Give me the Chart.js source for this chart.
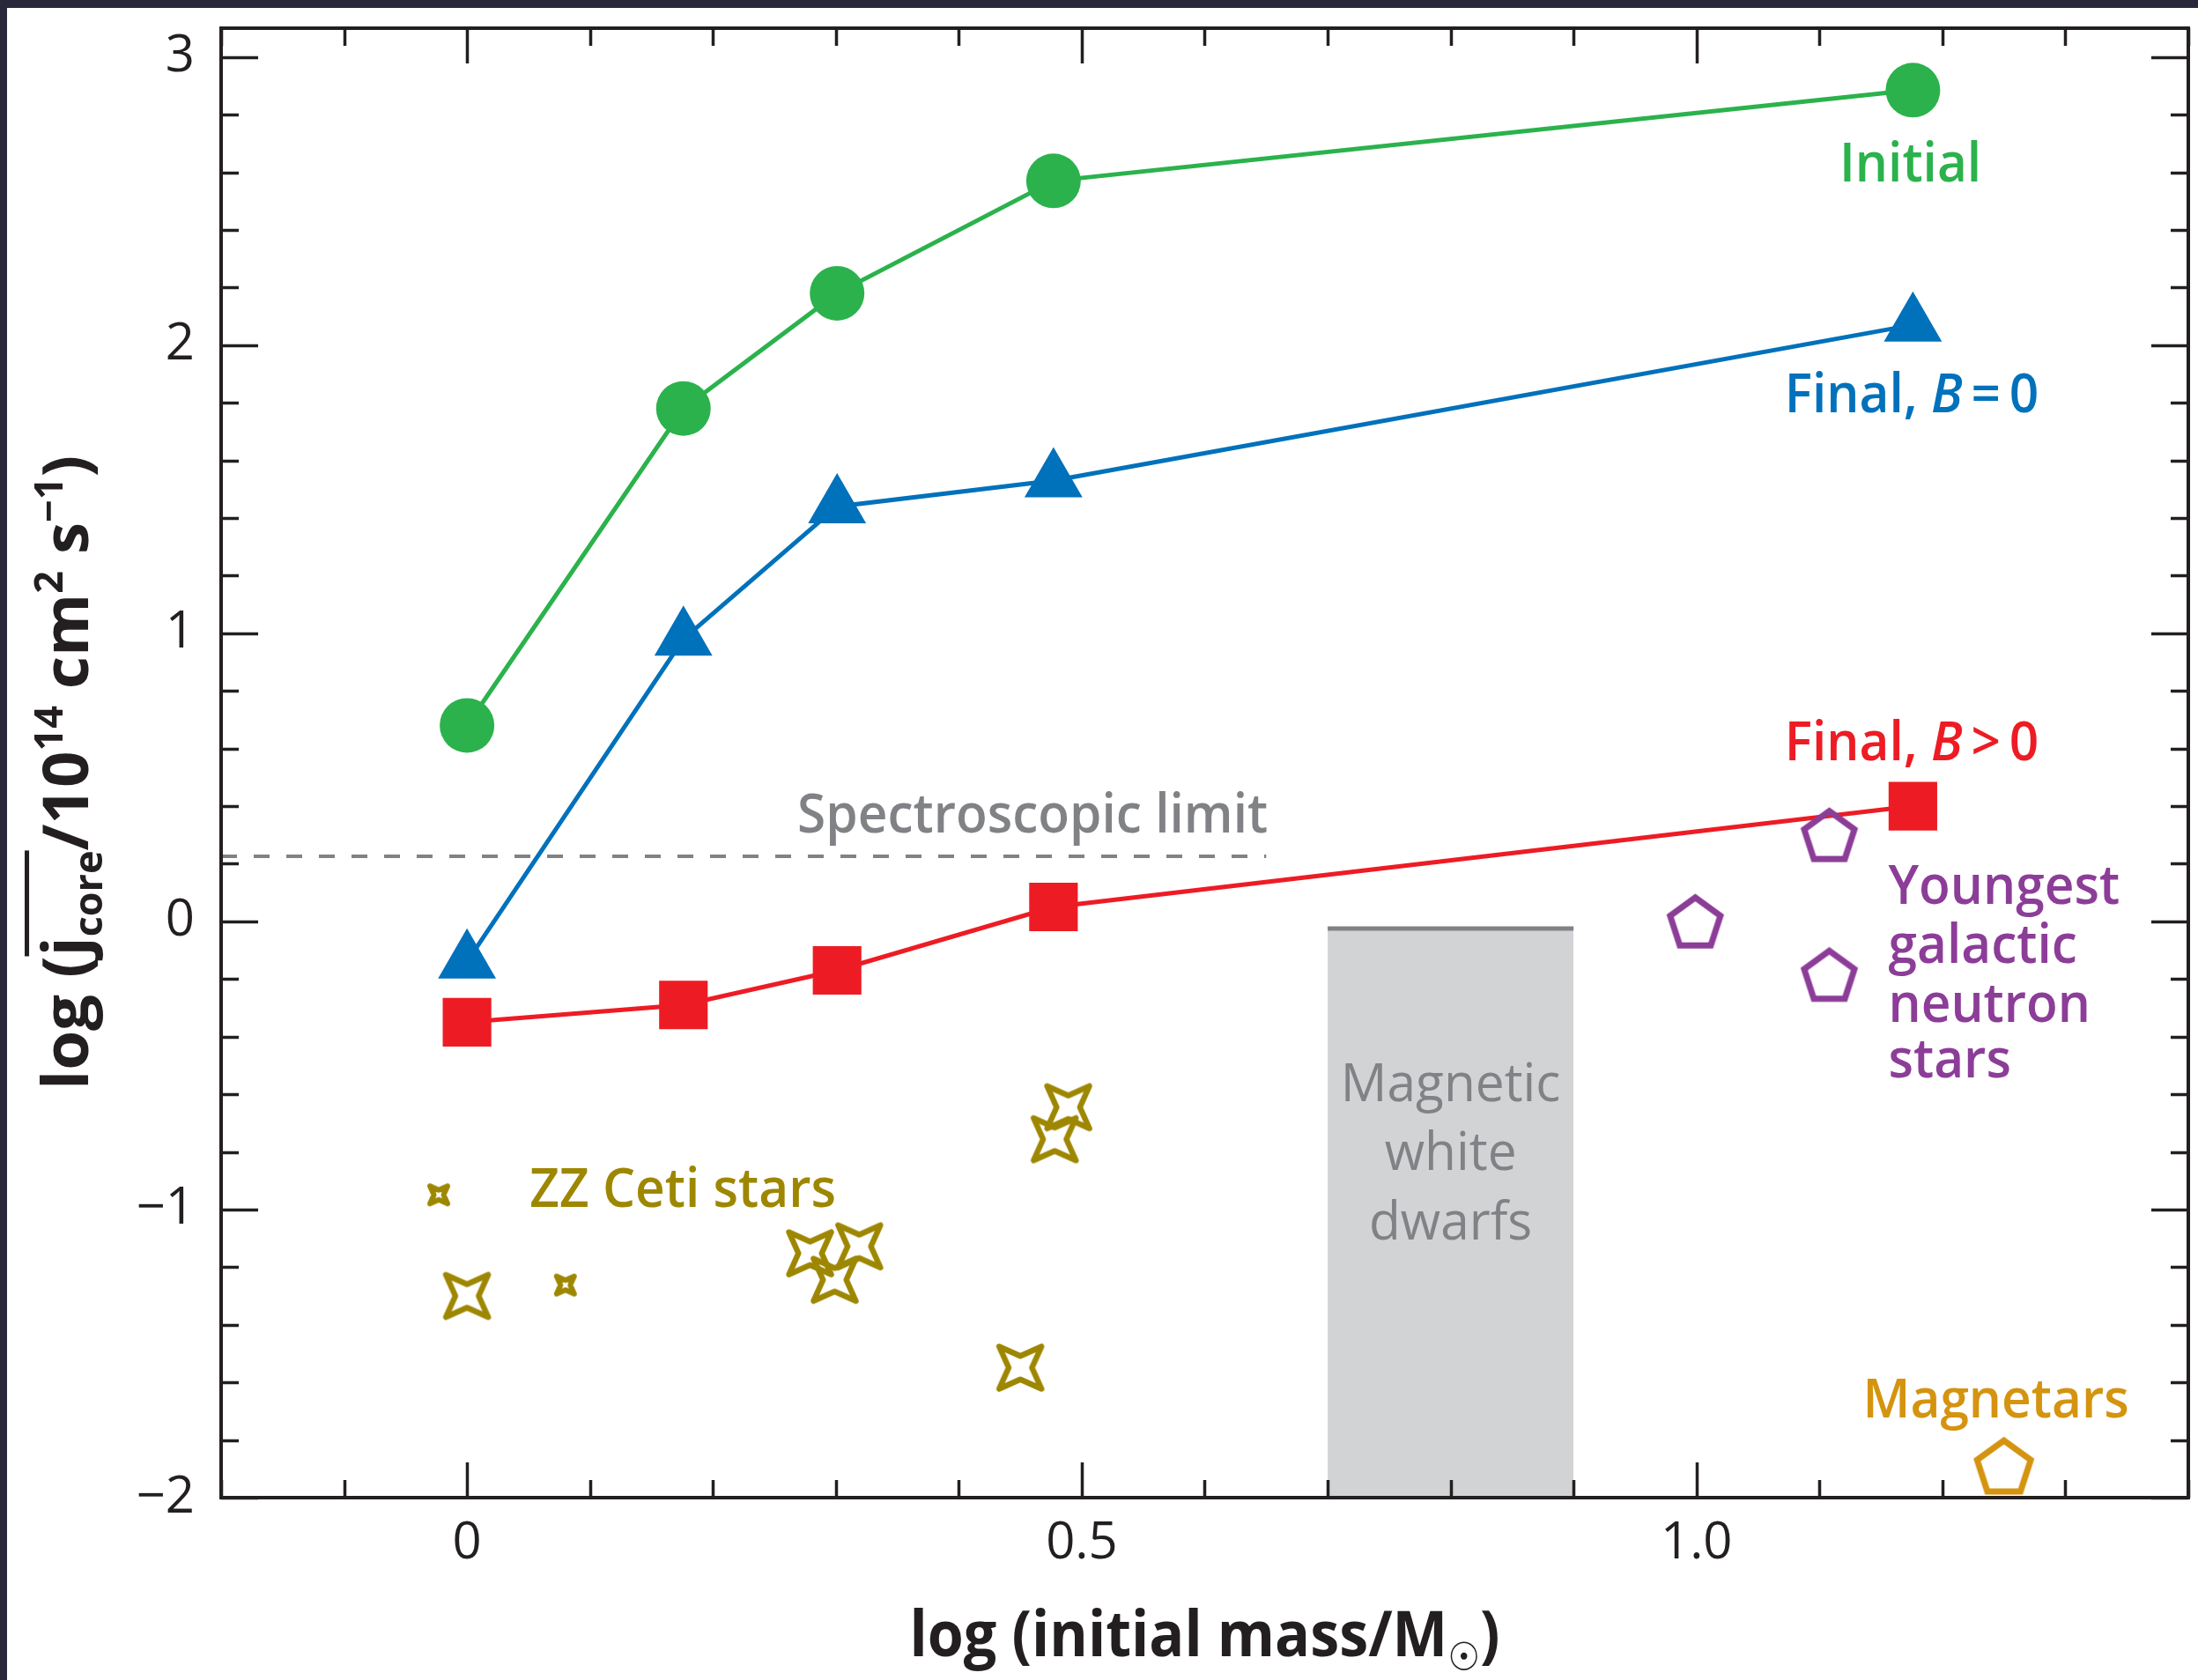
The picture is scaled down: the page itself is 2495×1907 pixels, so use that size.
<!DOCTYPE html>
<html>
<head>
<meta charset="utf-8">
<script src="https://cdn.jsdelivr.net/npm/chart.js@4.4.1/dist/chart.umd.min.js"></script>
<style>
html,body{margin:0;padding:0;background:#fff;overflow:hidden}
#wrap{position:relative;width:2495px;height:1907px;background:#fff}
canvas{display:block}
</style>
</head>
<body>
<div id="wrap"><canvas id="c" width="2495" height="1907"></canvas></div>
<script>
// ---------------- DATA ----------------
const massX      = [0, 0.176, 0.301, 0.477, 1.176];      // log(initial mass / Msun)
const initialJ   = [0.68, 1.78, 2.18, 2.57, 2.885];
const finalB0J   = [-0.14, 0.98, 1.44, 1.53, 2.07];
const finalBJ    = [-0.35, -0.29, -0.17, 0.05, 0.40];

const zzLargeX   = [0, 0.279, 0.319, 0.299, 0.489, 0.478, 0.450];
const zzLargeJ   = [-1.30, -1.152, -1.128, -1.244, -0.645, -0.756, -1.549];
const zzSmallX   = [-0.023, 0.080];
const zzSmallJ   = [-0.949, -1.262];

const nsX        = [1.108, 0.999, 1.108];
const nsJ        = [0.30, 0.0, -0.185];
const magnetarX  = [1.25];
const magnetarJ  = [-1.89];

const specLimitX = [-0.2, 0.65];
const specLimitJ = [0.226, 0.226];
const mwdX       = [0.7, 0.9];
const mwdTopJ    = [-0.025, -0.025];

const xMajorLabels = {0: '0', 5: '0.5', 10: '1.0'};   // keyed by tenths
const yMajorLabels = {3: '3', 2: '2', 1: '1', 0: '0', '-1': '\u22121', '-2': '\u22122'};

// ---------------- STYLE ----------------
const GREEN = '#2bb24c', BLUE = '#0071bb', RED = '#ed1c24', PURPLE = '#8c3d98',
      OLIVE = '#9e8700', ORANGE = '#d4940f', GRAYTXT = '#808285', GRAYFILL = '#d1d3d4',
      AXIS = '#231f20';
const FONT = '"Open Sans", "DejaVu Sans", sans-serif';

const pts = (xs, ys) => xs.map((v, i) => ({x: v, y: ys[i]}));

function makeStar(size, lw, color, k) {
  const c = document.createElement('canvas');
  const s = Math.ceil(size + lw * 2 + 2);
  c.width = c.height = s;
  const g = c.getContext('2d');
  const m = s / 2, a = size / 2, b = a * k;
  g.strokeStyle = color; g.lineWidth = lw; g.lineJoin = 'round';
  g.beginPath();
  g.moveTo(m - a, m - a); g.lineTo(m, m - b); g.lineTo(m + a, m - a);
  g.lineTo(m + b, m); g.lineTo(m + a, m + a); g.lineTo(m, m + b);
  g.lineTo(m - a, m + a); g.lineTo(m - b, m); g.closePath();
  g.stroke();
  return c;
}
function makePentagon(R, lw, color) {
  const c = document.createElement('canvas');
  const s = Math.ceil(2 * R + lw * 2 + 4);
  c.width = c.height = s;
  const g = c.getContext('2d');
  const cx = s / 2, cy = s / 2 + 0.0955 * R;
  g.strokeStyle = color; g.lineWidth = lw; g.lineJoin = 'miter';
  g.beginPath();
  for (let i = 0; i < 5; i++) {
    const ang = -Math.PI / 2 + i * 2 * Math.PI / 5;
    const px = cx + R * Math.cos(ang), py = cy + R * Math.sin(ang);
    if (i === 0) g.moveTo(px, py); else g.lineTo(px, py);
  }
  g.closePath(); g.stroke();
  return c;
}
const starLarge = makeStar(48, 6.5, OLIVE, 0.55);
const starSmall = makeStar(20, 6, OLIVE, 0.55);
const pentNS = makePentagon(30, 7, PURPLE);
const pentMag = makePentagon(32, 7, ORANGE);

// ---------------- TEXT ----------------
function pieceFont(p, size, weight) {
  const s = (p.sub || p.sup) ? size * 0.62 : size;
  return (p.italic ? 'italic ' : '') + weight + ' ' + s + 'px ' + FONT;
}
function drawRich(ctx, pieces, px, py, opt) {
  const size = opt.size, weight = opt.weight || 600;
  ctx.save();
  ctx.fillStyle = opt.color;
  ctx.textBaseline = 'alphabetic';
  ctx.textAlign = 'left';
  const ws = pieces.map(p => { ctx.font = pieceFont(p, size, weight); return ctx.measureText(p.t).width; });
  const total = ws.reduce((a, b) => a + b, 0);
  let hs = opt.hs || 1;
  if (opt.targetWidth) hs = opt.targetWidth / total;
  ctx.translate(px, py);
  if (opt.rotate) ctx.rotate(opt.rotate);
  ctx.scale(hs, 1);
  let cx = opt.align === 'center' ? -total / 2 : (opt.align === 'right' ? -total : 0);
  let overStart = null;
  pieces.forEach((p, i) => {
    ctx.font = pieceFont(p, size, weight);
    const dy = p.sub ? size * 0.22 : (p.sup ? -size * 0.40 : 0);
    ctx.fillText(p.t, cx, dy);
    if (p.overStart) overStart = cx;
    if (p.overEnd && overStart !== null) {
      ctx.fillRect(overStart, -size * 1.0, cx + ws[i] - overStart, size * 0.07);
    }
    cx += ws[i];
  });
  ctx.restore();
}

const textLabels = [
  {pieces: [{t: 'Initial'}], x: 1.174, y: 2.567, align: 'center', color: GREEN},
  {pieces: [{t: 'Final, '}, {t: 'B', italic: true}, {t: '\u2009=\u20090'}], x: 1.175, y: 1.768, align: 'center', color: BLUE},
  {pieces: [{t: 'Final, '}, {t: 'B', italic: true}, {t: '\u2009>\u20090'}], x: 1.175, y: 0.558, align: 'center', color: RED},
  {pieces: [{t: 'Spectroscopic limit'}], x: 0.460, y: 0.309, align: 'center', color: GRAYTXT},
  {pieces: [{t: 'ZZ Ceti stars'}], x: 0.051, y: -0.99, align: 'left', color: OLIVE},
  {pieces: [{t: 'Magnetic'}], x: 0.8, y: -0.624, align: 'center', color: GRAYTXT, weight: 400},
  {pieces: [{t: 'white'}], x: 0.8, y: -0.864, align: 'center', color: GRAYTXT, weight: 400},
  {pieces: [{t: 'dwarfs'}], x: 0.8, y: -1.105, align: 'center', color: GRAYTXT, weight: 400},
  {pieces: [{t: 'Youngest'}], x: 1.156, y: 0.061, align: 'left', color: PURPLE},
  {pieces: [{t: 'galactic'}], x: 1.156, y: -0.145, align: 'left', color: PURPLE},
  {pieces: [{t: 'neutron'}], x: 1.156, y: -0.349, align: 'left', color: PURPLE},
  {pieces: [{t: 'stars'}], x: 1.156, y: -0.543, align: 'left', color: PURPLE},
  {pieces: [{t: 'Magnetars'}], x: 1.2435, y: -1.723, align: 'center', color: ORANGE}
];

const labelPlugin = {
  id: 'textLabels',
  afterDatasetsDraw(chart) {
    const {ctx} = chart, xs = chart.scales.x, ys = chart.scales.y;
    textLabels.forEach(L => {
      drawRich(ctx, L.pieces, xs.getPixelForValue(L.x), ys.getPixelForValue(L.y),
        {size: 61, weight: L.weight || 600, color: L.color, align: L.align, hs: 0.96});
    });
  }
};

const framePlugin = {
  id: 'frame',
  afterDraw(chart) {
    const {ctx, chartArea: a} = chart, xs = chart.scales.x, ys = chart.scales.y;
    ctx.save();
    ctx.strokeStyle = AXIS;
    ctx.lineWidth = 3.5;
    ctx.beginPath();
    xs.ticks.forEach(t => {
      const tenth = Math.round(t.value * 10);
      const len = tenth % 5 === 0 ? 40 : 20;
      const px = Math.round(xs.getPixelForValue(t.value)) + 0.5;
      ctx.moveTo(px, a.bottom); ctx.lineTo(px, a.bottom - len);
      ctx.moveTo(px, a.top); ctx.lineTo(px, a.top + len);
    });
    ys.ticks.forEach(t => {
      const isMajor = Math.abs(t.value - Math.round(t.value)) < 1e-6;
      const len = isMajor ? 42 : 20;
      const py = Math.round(ys.getPixelForValue(t.value)) + 0.5;
      ctx.moveTo(a.left, py); ctx.lineTo(a.left + len, py);
      ctx.moveTo(a.right, py); ctx.lineTo(a.right - len, py);
    });
    ctx.stroke();
    ctx.lineWidth = 4;
    ctx.strokeRect(a.left, a.top, a.right - a.left, a.bottom - a.top);

    // axis titles
    drawRich(ctx, [{t: 'log (initial mass/M'}, {t: '\u2609', sub: true}, {t: ')'}],
      (a.left + a.right) / 2, 1880, {size: 72, weight: 700, color: AXIS, align: 'center', targetWidth: 670});
    drawRich(ctx, [{t: 'log ('}, {t: 'j', overStart: true}, {t: 'core', sub: true, overEnd: true},
                   {t: '/10'}, {t: '14', sup: true}, {t: ' cm'}, {t: '2', sup: true},
                   {t: ' s'}, {t: '\u22121', sup: true}, {t: ')'}],
      100, 877, {size: 72, weight: 700, color: AXIS, align: 'center', rotate: -Math.PI / 2, targetWidth: 720});

    // photo border bands
    ctx.fillStyle = '#29273a';
    ctx.fillRect(0, 0, chart.width, 9);
    ctx.fillRect(0, 0, 8, chart.height);
    ctx.restore();
  }
};

const ctx = document.getElementById('c').getContext('2d');
new Chart(ctx, {
  type: 'line',
  data: {
    datasets: [
      {label: 'Magnetars', data: pts(magnetarX, magnetarJ), showLine: false,
       pointStyle: pentMag, pointRadius: 30, order: 1},
      {label: 'Youngest galactic neutron stars', data: pts(nsX, nsJ), showLine: false,
       pointStyle: pentNS, pointRadius: 30, order: 1},
      {label: 'Final, B > 0', data: pts(massX, finalBJ), borderColor: RED, backgroundColor: RED,
       borderWidth: 5, pointStyle: 'rect', pointRadius: 39, pointBorderWidth: 0, order: 2},
      {label: 'Final, B = 0', data: pts(massX, finalB0J), borderColor: BLUE, backgroundColor: BLUE,
       borderWidth: 5, pointStyle: 'triangle', pointRadius: 38, pointBorderWidth: 0, order: 2},
      {label: 'Initial', data: pts(massX, initialJ), borderColor: GREEN, backgroundColor: GREEN,
       borderWidth: 5, pointStyle: 'circle', pointRadius: 31, pointBorderWidth: 0, order: 2},
      {label: 'ZZ Ceti stars (large)', data: pts(zzLargeX, zzLargeJ), showLine: false,
       pointStyle: starLarge, pointRadius: 25, order: 3},
      {label: 'ZZ Ceti stars (small)', data: pts(zzSmallX, zzSmallJ), showLine: false,
       pointStyle: starSmall, pointRadius: 12, order: 3},
      {label: 'Spectroscopic limit', data: pts(specLimitX, specLimitJ), borderColor: GRAYTXT,
       borderWidth: 4, borderDash: [18, 19], pointRadius: 0, order: 4},
      {label: 'Magnetic white dwarfs', data: pts(mwdX, mwdTopJ), borderColor: GRAYTXT,
       backgroundColor: GRAYFILL, borderWidth: 5, pointRadius: 0, fill: 'start', order: 5}
    ]
  },
  options: {
    responsive: false,
    animation: false,
    devicePixelRatio: 1,
    events: [],
    layout: {autoPadding: false, padding: {top: 32, right: 11, left: 0, bottom: 0}},
    plugins: {legend: {display: false}, tooltip: {enabled: false}, title: {display: false}},
    scales: {
      x: {
        type: 'linear', position: 'bottom', min: -0.2, max: 1.4,
        grid: {display: false, drawTicks: false},
        border: {display: false},
        ticks: {
          stepSize: 0.1, includeBounds: false, autoSkip: false, maxRotation: 0, padding: 18,
          color: AXIS, font: {family: FONT, size: 58, weight: 400},
          callback: v => { const t = Math.round(v * 10); return (Math.abs(v * 10 - t) < 1e-6 && xMajorLabels[t] !== undefined) ? xMajorLabels[t] : ''; }
        },
        afterFit: s => { s.height = 207; s.paddingLeft = 0; s.paddingRight = 0; s.paddingTop = 0; s.paddingBottom = 0; }
      },
      y: {
        type: 'linear', position: 'left', min: -2, max: 3.1,
        grid: {display: false, drawTicks: false},
        border: {display: false},
        ticks: {
          stepSize: 0.2, includeBounds: false, autoSkip: false, padding: 30,
          color: AXIS, font: {family: FONT, size: 58, weight: 400},
          callback: v => { const r = Math.round(v); return (Math.abs(v - r) < 1e-6 && yMajorLabels[r] !== undefined) ? yMajorLabels[r] : ''; }
        },
        afterFit: s => { s.width = 251; s.paddingTop = 0; s.paddingBottom = 0; s.paddingLeft = 0; s.paddingRight = 0; }
      }
    }
  },
  plugins: [labelPlugin, framePlugin]
});
</script>
</body>
</html>
